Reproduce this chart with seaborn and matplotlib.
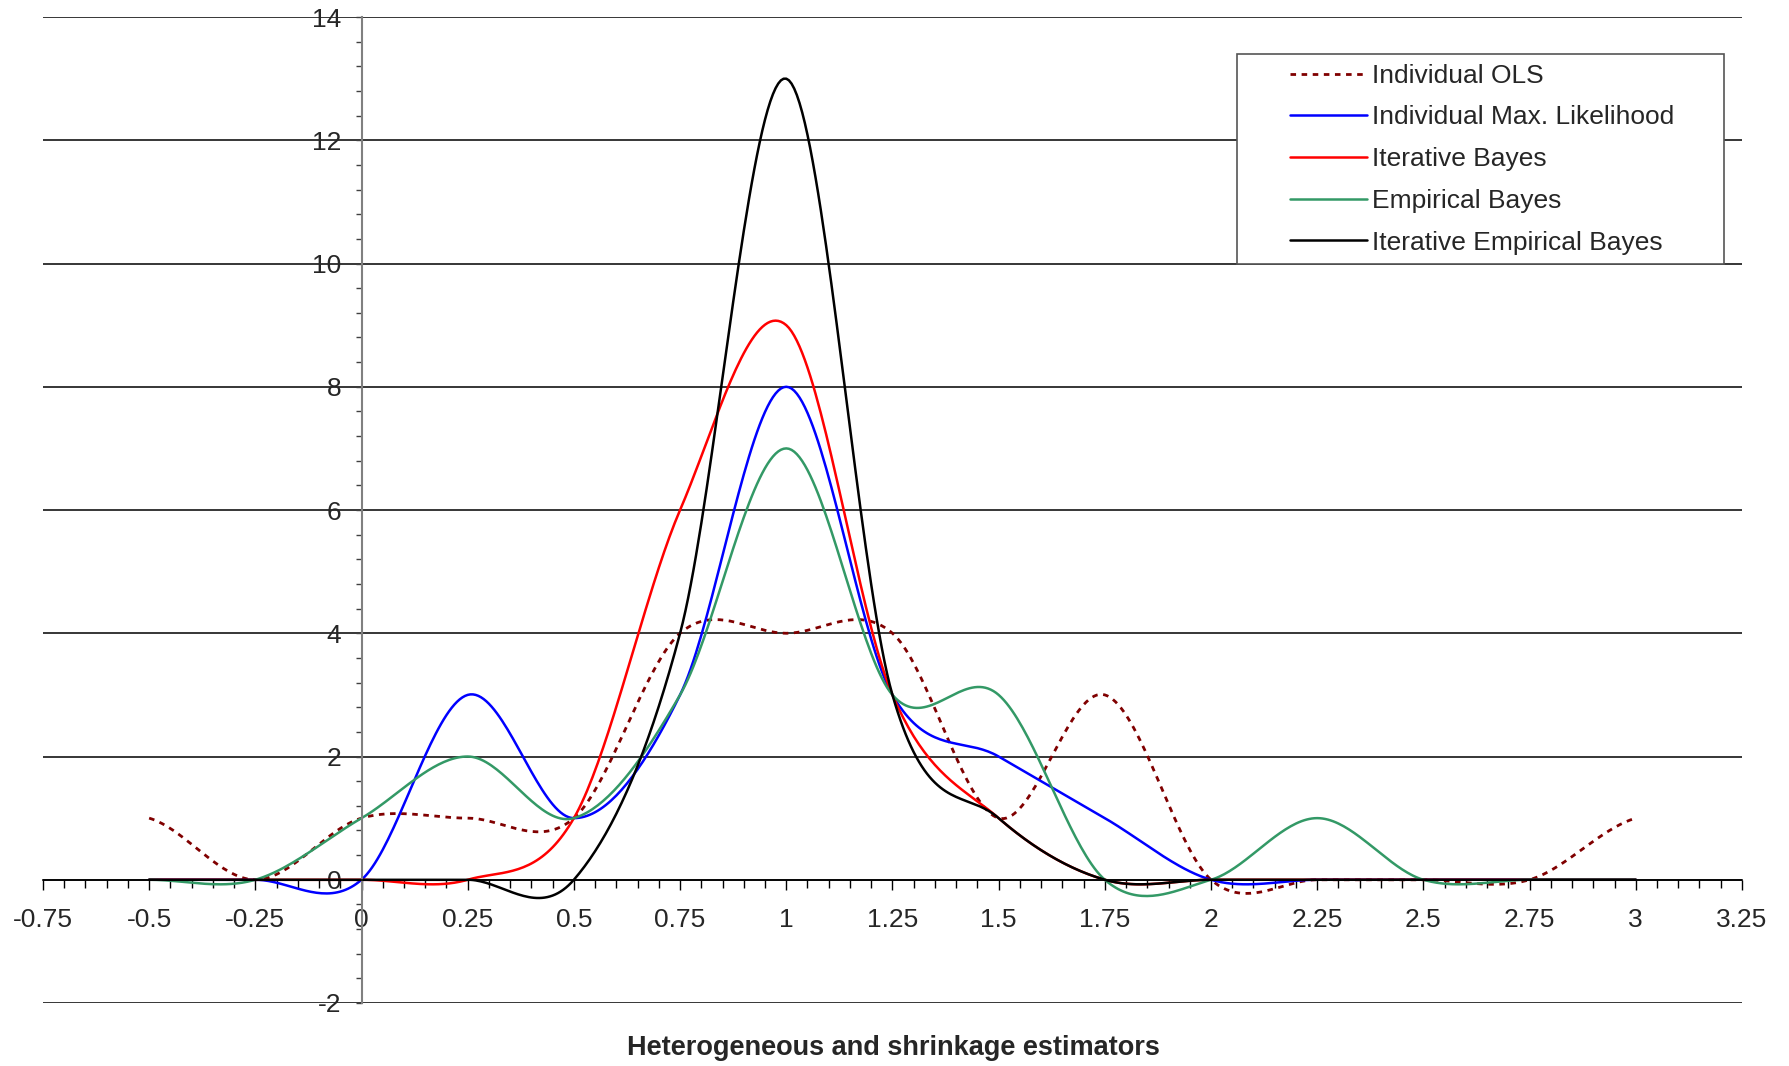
import numpy as np
import seaborn as sns
import matplotlib
matplotlib.use("Agg")
import matplotlib.pyplot as plt
from matplotlib.ticker import MultipleLocator, FormatStrFormatter
from matplotlib.lines import Line2D
from matplotlib.legend_handler import HandlerLine2D

# values at each 0.25 step
x_nodes = [-0.5, -0.25, 0, 0.25, 0.5, 0.75, 1, 1.25, 1.5, 1.75, 2, 2.25, 2.5, 2.75, 3]

ols = [1, 0, 1, 1, 1, 4, 4, 4, 1, 3, 0, 0, 0, 0, 1]
max_lik = [0, 0, 0, 3, 1, 3, 8, 3, 2, 1, 0, 0, 0, 0, 0]
it_bayes = [0, 0, 0, 0, 1, 6, 9, 3, 1, 0, 0, 0, 0, 0, 0]
emp_bayes = [0, 0, 1, 2, 1, 3, 7, 3, 3, 0, 0, 1, 0, 0, 0]
it_emp_bayes = [0, 0, 0, 0, 0, 4, 13, 3, 1, 0, 0, 0, 0, 0, 0]

labels = ['Individual OLS', 'Individual Max. Likelihood', 'Iterative Bayes',
          'Empirical Bayes', 'Iterative Empirical Bayes']
colors = ['#800000', '#0000ff', '#ff0000', '#339966', '#000000']
series = [ols, max_lik, it_bayes, emp_bayes, it_emp_bayes]


def smooth(x, y, n=40):
    # excel-style smoothed line (catmull-rom through the points)
    x = np.asarray(x, float)
    y = np.asarray(y, float)
    h = x[1] - x[0]
    m = np.empty_like(y)
    m[1:-1] = (y[2:] - y[:-2]) / (2 * h)
    m[0] = (y[1] - y[0]) / (2 * h)
    m[-1] = (y[-1] - y[-2]) / (2 * h)
    t = np.linspace(0, 1, n, endpoint=False)
    h00 = 2 * t**3 - 3 * t**2 + 1
    h10 = t**3 - 2 * t**2 + t
    h01 = -2 * t**3 + 3 * t**2
    h11 = t**3 - t**2
    xs, ys = [], []
    for i in range(len(x) - 1):
        xs.append(x[i] + t * h)
        ys.append(h00 * y[i] + h10 * h * m[i] + h01 * y[i + 1] + h11 * h * m[i + 1])
    xs.append([x[-1]])
    ys.append([y[-1]])
    return np.concatenate(xs), np.concatenate(ys)


sns.set_style("ticks")
plt.rcParams['font.family'] = ['Liberation Sans', 'DejaVu Sans']

fig, ax = plt.subplots(figsize=(17.89, 10.66), dpi=100)
fig.subplots_adjust(left=0.024, right=0.9737, bottom=0.0591, top=0.984)

for name, vals, col in zip(labels, series, colors):
    xs, ys = smooth(x_nodes, vals)
    if name == 'Individual OLS':
        sns.lineplot(x=xs, y=ys, color=col, lw=2, linestyle=(0, (2, 2)),
                     label=name, ax=ax, sort=False, estimator=None)
    else:
        sns.lineplot(x=xs, y=ys, color=col, lw=1.8, label=name, ax=ax,
                     sort=False, estimator=None)

ax.set_xlim(-0.75, 3.25)
ax.set_ylim(-2, 14)
ax.xaxis.set_major_locator(MultipleLocator(0.25))
ax.xaxis.set_minor_locator(MultipleLocator(0.05))
ax.yaxis.set_major_locator(MultipleLocator(2))
ax.yaxis.set_minor_locator(MultipleLocator(0.4))
ax.xaxis.set_major_formatter(FormatStrFormatter('%g'))
ax.yaxis.set_major_formatter(FormatStrFormatter('%g'))

ax.spines['top'].set_visible(False)
ax.spines['right'].set_visible(False)
ax.spines['left'].set_position(('data', 0))
ax.spines['left'].set_color('#808080')
ax.spines['left'].set_linewidth(1.5)
ax.spines['bottom'].set_position(('data', 0))
ax.spines['bottom'].set_color('black')
ax.spines['bottom'].set_linewidth(1.2)

ax.yaxis.grid(True, which='major', color='black', lw=1.1)
ax.xaxis.grid(False)
ax.set_axisbelow(True)

ax.tick_params(axis='x', which='major', direction='out', length=7, width=1,
               color='black', pad=13, labelsize=19)
ax.tick_params(axis='x', which='minor', direction='out', length=5.5, width=1,
               color='black')
ax.tick_params(axis='y', which='both', direction='out', length=4.5, width=1,
               color='#404040', pad=10, labelsize=19)
ax.set_xlabel('')
ax.set_ylabel('')

fig.text(0.4994, 0.0169, 'Heterogeneous and shrinkage estimators',
         ha='center', va='center', fontsize=19.5, fontweight='bold')

handles, labs = ax.get_legend_handles_labels()
leg = ax.legend(handles, labs, loc='upper left',
                bbox_to_anchor=(0.6914, 0.7523, 0.2722, 0.197),
                bbox_transform=fig.transFigure, mode='expand', borderaxespad=0,
                fontsize=19, frameon=True, fancybox=False, framealpha=1,
                edgecolor='#555555', borderpad=0.37, labelspacing=0.67,
                handlelength=4.55, handletextpad=0.19,
                handler_map={Line2D: HandlerLine2D(xpad=1.63)})
leg.get_frame().set_linewidth(1.2)

fig.savefig('out.png', dpi=100)
